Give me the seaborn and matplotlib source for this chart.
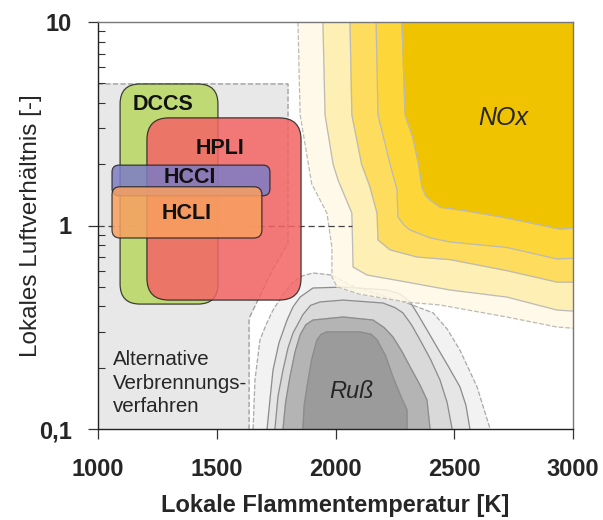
import numpy as np
import pandas as pd
import matplotlib.pyplot as plt
import seaborn as sns
from matplotlib.patches import FancyBboxPatch
from matplotlib.ticker import FixedLocator, FixedFormatter, LogLocator, NullFormatter

sns.set_style("ticks")
plt.rcParams['font.family'] = ['Liberation Sans', 'DejaVu Sans']

# axis ticks
x_ticks = [1000, 1500, 2000, 2500, 3000]
y_ticks = [0.1, 1, 10]
y_tick_labels = ['0,1', '1', '10']

# area of alternative combustion processes (T [K], lambda [-])
alt_T = [1000, 1000, 1800, 1800, 1733, 1669, 1636, 1636]
alt_lam = [0.1, 4.96, 4.96, 0.82, 0.60, 0.42, 0.35, 0.1]

# NOx contour boundaries, outer -> inner (from top edge to right edge)
nox1_T = [1842, 1851, 1880, 1900, 1964, 1985, 1985, 2006, 2100, 2300, 2440, 2722, 2933, 3000]
nox1_lam = [10, 3.5, 2.2, 1.6, 1.15, 0.78, 0.56, 0.50, 0.46, 0.42, 0.407, 0.355, 0.317, 0.313]
nox2_T = [1947, 1956, 1990, 2011, 2069, 2074, 2133, 2301, 2482, 2722, 2933, 3000]
nox2_lam = [10, 3.5, 2.0, 1.67, 1.15, 0.625, 0.571, 0.527, 0.482, 0.445, 0.384, 0.38]
nox3_T = [2061, 2069, 2110, 2145, 2175, 2179, 2229, 2343, 2482, 2722, 2933, 3000]
nox3_lam = [10, 3.5, 2.0, 1.55, 1.15, 0.85, 0.76, 0.70, 0.68, 0.60, 0.527, 0.527]
nox4_T = [2171, 2179, 2230, 2259, 2263, 2290, 2314, 2398, 2482, 2722, 2933, 3000]
nox4_lam = [10, 3.5, 2.0, 1.5, 1.1, 1.0, 0.95, 0.87, 0.83, 0.78, 0.685, 0.69]
nox5_T = [2280, 2293, 2326, 2350, 2364, 2380, 2400, 2440, 2550, 2720, 2945, 3000]
nox5_lam = [10, 3.5, 2.7, 2.0, 1.55, 1.4, 1.33, 1.23, 1.18, 1.09, 0.96, 0.97]
nox_colors = ['#fff9e6', '#feefb4', '#fddc5e', '#fdd63a', '#f0c300']

# soot (Ruß) contours, outer -> inner (from bottom edge over the dome)
russ1_T = [1653, 1661, 1682, 1710, 1737, 1780, 1821, 1860, 1905, 1985, 2061, 2187, 2301, 2411, 2470, 2524, 2596, 2651]
russ1_lam = [0.1, 0.174, 0.274, 0.33, 0.384, 0.46, 0.527, 0.565, 0.584, 0.571, 0.51, 0.456, 0.416, 0.372, 0.31, 0.244, 0.161, 0.1]
russ2_T = [1712, 1724, 1737, 1762, 1796, 1821, 1851, 1905, 2032, 2217, 2272, 2314, 2343, 2385, 2427, 2474, 2524, 2549, 2566]
russ2_lam = [0.1, 0.139, 0.195, 0.265, 0.343, 0.398, 0.445, 0.493, 0.498, 0.482, 0.461, 0.421, 0.372, 0.307, 0.253, 0.204, 0.161, 0.131, 0.1]
russ3_T = [1745, 1758, 1779, 1800, 1821, 1863, 1895, 1935, 2032, 2200, 2250, 2284, 2320, 2356, 2400, 2440, 2470, 2491]
russ3_lam = [0.1, 0.145, 0.195, 0.25, 0.296, 0.365, 0.405, 0.421, 0.43, 0.416, 0.395, 0.372, 0.325, 0.274, 0.22, 0.174, 0.135, 0.1]
russ4_T = [1779, 1790, 1808, 1830, 1851, 1875, 1905, 2032, 2158, 2205, 2242, 2280, 2314, 2355, 2385, 2398]
russ4_lam = [0.1, 0.135, 0.18, 0.24, 0.29, 0.325, 0.343, 0.355, 0.343, 0.315, 0.283, 0.24, 0.202, 0.165, 0.139, 0.1]
russ5_T = [1863, 1868, 1880, 1900, 1922, 1940, 1964, 2103, 2150, 2175, 2210, 2242, 2275, 2301, 2301]
russ5_lam = [0.1, 0.13, 0.161, 0.22, 0.274, 0.292, 0.30, 0.30, 0.292, 0.274, 0.23, 0.18, 0.145, 0.124, 0.1]
russ_colors = ['#f2f2f2', '#e6e6e6', '#d9d9d9', '#b4b4b4', '#9b9b9b']

# combustion process boxes
box_names = ['DCCS', 'HPLI', 'HCCI', 'HCLI']
box_T_min = [1093, 1206, 1059, 1059]
box_T_max = [1505, 1855, 1724, 1690]
box_lam_min = [0.411, 0.43, 1.40, 0.868]
box_lam_max = [4.96, 3.38, 1.98, 1.55]
box_colors = ['#b8d860', '#f46464', '#7c7cc6', '#f8a060']
box_radius_px = [20, 22, 7, 8]
label_T = [1274, 1514, 1387, 1375]
label_lam = [3.91, 2.40, 1.73, 1.15]

W, H = 603, 520
fig = plt.figure(figsize=(W / 100, H / 100), dpi=100)
ax_l, ax_r, ax_t, ax_b = 98, 573, 22, 429
ax = fig.add_axes([ax_l / W, 1 - ax_b / H, (ax_r - ax_l) / W, (ax_b - ax_t) / H])
ax.set_axisbelow(False)
ax.set_yscale('log')
ax.set_xlim(1000, 3000)
ax.set_ylim(0.1, 10)

# alternative combustion area
ax.fill(alt_T, alt_lam, color='#e8e8e8', zorder=1)
ax.plot(alt_T[1:], alt_lam[1:], color='#9a9a9a', lw=0.9, ls=(0, (4, 2)), zorder=1.1)

# soot contours
russ = [(russ1_T, russ1_lam), (russ2_T, russ2_lam), (russ3_T, russ3_lam),
        (russ4_T, russ4_lam), (russ5_T, russ5_lam)]
for i, ((t, l), c) in enumerate(zip(russ, russ_colors)):
    ax.fill(t, l, color=c, zorder=2)
    sns.lineplot(x=t, y=l, sort=False, estimator=None, ax=ax,
                 color='#aaaaaa' if i == 0 else '#8c8c8c', lw=0.9,
                 ls='--' if i == 0 else '-', zorder=2.1)

# NOx contours
nox = [(nox1_T, nox1_lam), (nox2_T, nox2_lam), (nox3_T, nox3_lam),
       (nox4_T, nox4_lam), (nox5_T, nox5_lam)]
for i, ((t, l), c) in enumerate(zip(nox, nox_colors)):
    ax.fill(list(t) + [3000], list(l) + [10], color=c, zorder=3,
            alpha=0.85 if i == 0 else 1)
    sns.lineplot(x=t, y=l, sort=False, estimator=None, ax=ax,
                 color='#bbbbbb', lw=0.9, ls='--' if i == 0 else '-', zorder=3.1)

# lambda = 1 line
sns.lineplot(x=[1000, 2070], y=[1, 1], ax=ax, color='#444444', lw=0.9,
             ls=(0, (5, 3)), zorder=4)

# rounded boxes (drawn in axes fraction to keep round corners)
to_axes = ax.transData + ax.transAxes.inverted()
aw, ah = ax_r - ax_l, ax_b - ax_t
for name, t0, t1, l0, l1, c, r in zip(box_names, box_T_min, box_T_max,
                                      box_lam_min, box_lam_max, box_colors, box_radius_px):
    (x0, y0), (x1, y1) = to_axes.transform([(t0, l0), (t1, l1)])
    patch = FancyBboxPatch((x0, y0), x1 - x0, y1 - y0,
                           boxstyle=f"round,pad=0,rounding_size={r / aw}",
                           mutation_aspect=aw / ah, transform=ax.transAxes,
                           facecolor=c, edgecolor='#222222', lw=0.9, alpha=0.85, zorder=5)
    ax.add_patch(patch)

for name, t, l in zip(box_names, label_T, label_lam):
    ax.text(t, l, name, ha='center', va='center', fontsize=15.5,
            fontweight='bold', color='#111111', zorder=10)

ax.text(2705, 3.38, 'NOx', ha='center', va='center', fontsize=18,
        style='italic', zorder=10)
ax.text(2069, 0.152, 'Ruß', ha='center', va='center', fontsize=17,
        style='italic', zorder=10)
ax.text(1063, 0.168, 'Alternative\nVerbrennungs-\nverfahren', ha='left',
        va='center', fontsize=14.8, linespacing=1.3, zorder=10)

# axes styling
ax.xaxis.set_major_locator(FixedLocator(x_ticks))
ax.yaxis.set_major_locator(FixedLocator(y_ticks))
ax.yaxis.set_major_formatter(FixedFormatter(y_tick_labels))
ax.yaxis.set_minor_locator(LogLocator(base=10, subs=np.arange(2, 10), numticks=20))
ax.yaxis.set_minor_formatter(NullFormatter())
ax.xaxis.set_minor_locator(FixedLocator([]))
ax.tick_params(axis='both', which='major', direction='out', length=7,
               width=0.9, color='#333333', labelsize=17, pad=14)
ax.tick_params(axis='y', which='major', pad=12)
ax.tick_params(axis='y', which='minor', direction='in', length=5, width=0.8,
               color='#333333')
for lab in ax.get_xticklabels() + ax.get_yticklabels():
    lab.set_fontweight('bold')

for side in ['left', 'bottom']:
    ax.spines[side].set_color('#222222')
    ax.spines[side].set_linewidth(1.0)
for side in ['top', 'right']:
    ax.spines[side].set_visible(True)
    ax.spines[side].set_color('#777777')
    ax.spines[side].set_linewidth(1.0)
for sp in ax.spines.values():
    sp.set_zorder(20)

ax.set_xlabel('Lokale Flammentemperatur [K]', fontsize=17, fontweight='bold')
ax.set_ylabel('Lokales Luftverhältnis [-]', fontsize=17.5)
ax.xaxis.set_label_coords(0.5, -(494 - ax_b) / ah)
ax.yaxis.set_label_coords(-(ax_l - 42) / aw, 0.5)

fig.savefig('out.png', dpi=100)
